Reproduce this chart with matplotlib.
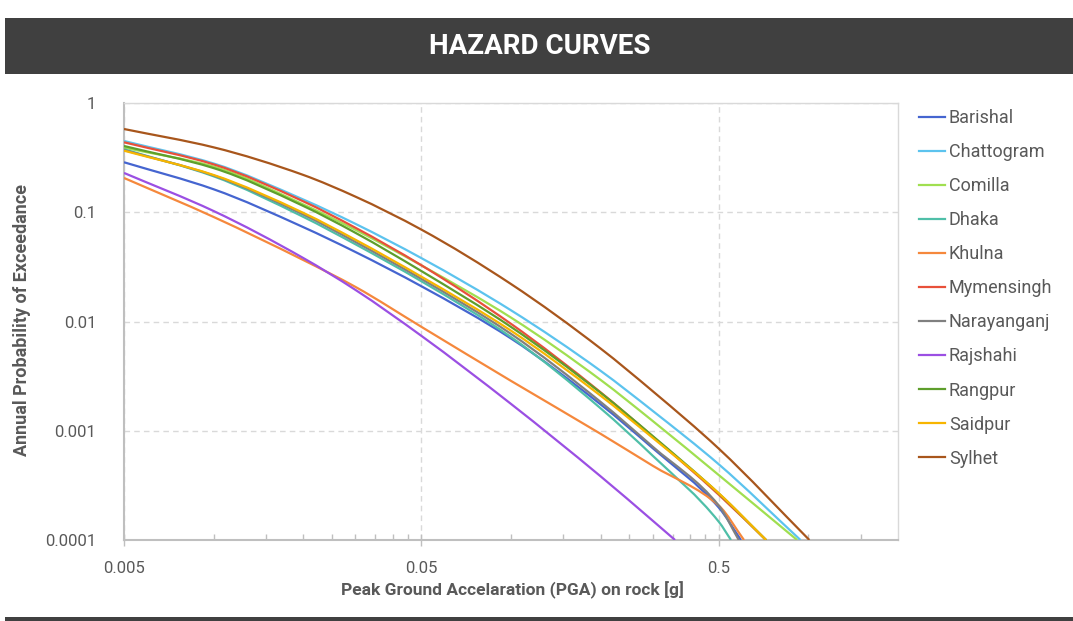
import matplotlib.pyplot as plt
import numpy as np
from matplotlib.lines import Line2D
from matplotlib.patches import Rectangle, PathPatch
from matplotlib.path import Path
from matplotlib.ticker import FixedLocator, FixedFormatter, NullFormatter, NullLocator

# PGA grid [g] and annual probability of exceedance
pga = [0.005, 0.01, 0.02, 0.03, 0.05, 0.1, 0.2, 0.3, 0.5]

barishal = [0.2868, 0.1624, 0.0732, 0.04325, 0.0210, 0.00699, 0.001744, 0.00069, 0.0001975]
chattogram = [0.449, 0.2796, 0.131, 0.0783, 0.0380, 0.01266, 0.003539, 0.001515, 0.000492]
comilla = [0.390, 0.2618, 0.1181, 0.0690, 0.0326, 0.01086, 0.002923, 0.001224, 0.000392]
dhaka = [0.377, 0.2135, 0.0909, 0.0509, 0.02333, 0.0072, 0.001606, 0.000588, 0.0001464]
khulna = [0.206, 0.0906, 0.0366, 0.02073, 0.00893, 0.00286, 0.000938, 0.000477, 0.000206]
mymensingh = [0.437, 0.2744, 0.1261, 0.0721, 0.03268, 0.00952, 0.00225, 0.000881, 0.000259]
narayanganj = [0.3715, 0.2172, 0.0955, 0.0535, 0.02453, 0.0077, 0.001838, 0.000712, 0.000206]
rajshahi = [0.229, 0.1027, 0.0382, 0.01946, 0.00738, 0.00176, 0.000383, 0.0001496, np.nan]
rangpur = [0.404, 0.2537, 0.1144, 0.0648, 0.02892, 0.00892, 0.002227, 0.000891, 0.000266]
saidpur = [0.366, 0.2194, 0.0989, 0.0560, 0.0257, 0.00824, 0.002095, 0.000858, 0.000267]
sylhet = [0.578, 0.393, 0.2199, 0.1389, 0.0693, 0.02203, 0.00566, 0.002293, 0.000684]

# PGA where each curve reaches 1e-4 (bottom of the chart)
end_pga = [0.593, 0.94, 0.916, 0.549, 0.607, 0.72, 0.583, 0.356, 0.72, 0.72, 1.007]
floor_prob = 1e-4

cities = ["Barishal", "Chattogram", "Comilla", "Dhaka", "Khulna", "Mymensingh",
          "Narayanganj", "Rajshahi", "Rangpur", "Saidpur", "Sylhet"]
series = [barishal, chattogram, comilla, dhaka, khulna, mymensingh,
          narayanganj, rajshahi, rangpur, saidpur, sylhet]
colours = ["#4565d0", "#5cc3ee", "#a0df50", "#4fbfa8", "#f5883c", "#e8503a",
           "#808080", "#9b4fe3", "#5e9e2c", "#f7b500", "#a8561c"]


def smooth_path(xs, ys):
    # smoothed line as cubic Bezier segments in log-log space (pchip tangents)
    lx, ly = np.log10(xs), np.log10(ys)
    h = np.diff(lx)
    s = np.diff(ly) / h
    m = np.empty_like(lx)
    m[0], m[-1] = s[0], s[-1]
    w1 = 2 * h[1:] + h[:-1]
    w2 = h[1:] + 2 * h[:-1]
    m[1:-1] = (w1 + w2) / (w1 / s[:-1] + w2 / s[1:])
    verts = [(lx[0], ly[0])]
    codes = [Path.MOVETO]
    for i in range(len(h)):
        d = h[i] / 3
        verts += [(lx[i] + d, ly[i] + m[i] * d),
                  (lx[i + 1] - d, ly[i + 1] - m[i + 1] * d),
                  (lx[i + 1], ly[i + 1])]
        codes += [Path.CURVE4] * 3
    return Path(10 ** np.array(verts), codes)


plt.rcParams["font.family"] = ["Roboto", "DejaVu Sans"]
grey = "#595959"

fig = plt.figure(figsize=(10.73, 6.21), dpi=100)
W, H = 1073, 621

# header / footer bars
fig.add_artist(Rectangle((5 / W, 1 - 74 / H), 1, 56 / H, transform=fig.transFigure,
                         facecolor="#404040", edgecolor="none", zorder=0))
fig.add_artist(Rectangle((5 / W, 0), 1, 4 / H, transform=fig.transFigure,
                         facecolor="#404040", edgecolor="none", zorder=0))
fig.text(540 / W, 1 - 46 / H, "HAZARD CURVES", color="white", fontsize=20,
         fontweight="bold", ha="center", va="center")

ax = fig.add_axes([124 / W, 1 - 540 / H, (898 - 124) / W, (540 - 103) / H])

handles = []
for name, vals, end, c in zip(cities, series, end_pga, colours):
    xs = [p for p, v in zip(pga, vals) if not np.isnan(v) and p < end] + [end]
    ys = [v for p, v in zip(pga, vals) if not np.isnan(v) and p < end] + [floor_prob]
    ax.add_patch(PathPatch(smooth_path(xs, ys), facecolor="none", edgecolor=c,
                           lw=1.6, zorder=3))
    handles.append(Line2D([], [], color=c, lw=1.6, label=name))

ax.set_xscale("log")
ax.set_yscale("log")
ax.set_xlim(0.005, 2)
ax.set_ylim(1e-4, 1)

ax.xaxis.set_major_locator(FixedLocator([0.005, 0.05, 0.5]))
ax.xaxis.set_major_formatter(FixedFormatter(["0.005", "0.05", "0.5"]))
minor = list(np.arange(1, 10) * 0.005)[1:] + list(np.arange(1, 10) * 0.05)[1:] + [1.0, 1.5]
ax.xaxis.set_minor_locator(FixedLocator(minor))
ax.xaxis.set_minor_formatter(NullFormatter())
ax.yaxis.set_major_locator(FixedLocator([1e-4, 1e-3, 1e-2, 1e-1, 1]))
ax.yaxis.set_major_formatter(FixedFormatter(["0.0001", "0.001", "0.01", "0.1", "1"]))
ax.yaxis.set_minor_locator(NullLocator())

ax.tick_params(axis="x", which="major", direction="inout", length=8, width=1,
               color="#bfbfbf", labelsize=12, labelcolor=grey, pad=11)
ax.tick_params(axis="x", which="minor", direction="in", length=4, width=1, color="#bfbfbf")
ax.tick_params(axis="y", length=0, pad=20, labelsize=12, labelcolor=grey)

ax.grid(which="major", color="#d9d9d9", linestyle=(0, (4, 3)), lw=1)
for s in ["left", "bottom"]:
    ax.spines[s].set_color("#bfbfbf")
    ax.spines[s].set_linewidth(1.5)
for s in ["top", "right"]:
    ax.spines[s].set_color("#d9d9d9")
    ax.spines[s].set_linewidth(1)

fig.text(512 / W, 1 - 590 / H, "Peak Ground Accelaration (PGA) on rock [g]",
         fontsize=12.5, fontweight="bold", color=grey, ha="center", va="center")
fig.text(22 / W, 1 - 320 / H, "Annual Probability of Exceedance", rotation=90,
         fontsize=13, fontweight="bold", color=grey, ha="center", va="center")

fig.legend(handles=handles, loc="upper left", bbox_to_anchor=(919 / W, 1 - 109 / H),
           frameon=False, fontsize=13, labelcolor=grey, handlelength=1.44,
           handletextpad=0.22, labelspacing=0.89, borderpad=0, borderaxespad=0)

fig.savefig("out.png", dpi=100)
